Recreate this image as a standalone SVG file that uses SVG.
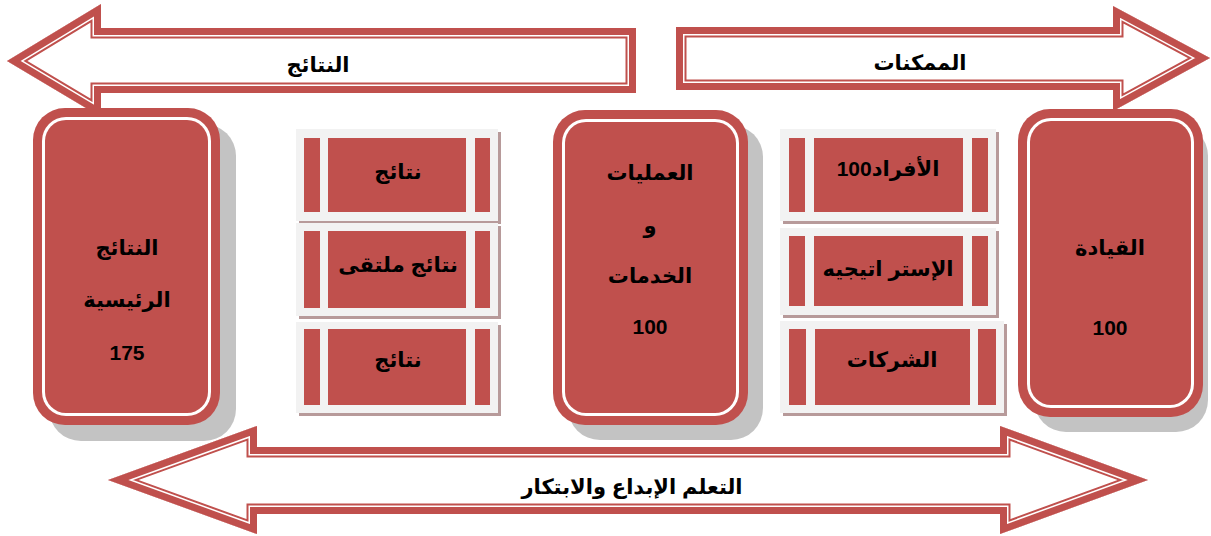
<svg xmlns="http://www.w3.org/2000/svg" xmlns:xlink="http://www.w3.org/1999/xlink" width="1211" height="536" viewBox="0 0 1211 536">
<style>
.bg{fill:#ffffff}
.afill{fill:#ffffff}
.b1{fill:none;stroke:#c0504d;stroke-width:21;stroke-linejoin:miter;stroke-miterlimit:10}
.b2{fill:none;stroke:#ffffff;stroke-width:17;stroke-linejoin:miter;stroke-miterlimit:10}
.b3{fill:none;stroke:#c0504d;stroke-width:14;stroke-linejoin:miter;stroke-miterlimit:10}
.red{fill:#c0504d}
.white{fill:#ffffff}
.shadow{fill:#c3c3c3}
.pale{fill:#f2f2f2}
.pshadow{fill:#b79a9a}
.t{font-family:"Liberation Sans","DejaVu Sans",sans-serif;font-weight:bold;font-size:21px;fill:#000000;text-anchor:middle;direction:rtl}
</style>
<defs>
<path id="pTL" d="M7,61 L101,4 L101,28 L636,28 L636,93 L101,93 L101,117 Z"/>
<path id="pTR" d="M676,27 L1113,27 L1113,6 L1210,58 L1113,111 L1113,90 L676,90 Z"/>
<path id="pB" d="M108,480 L257,426 L257,447 L1000,447 L1000,426 L1148,480 L1000,534 L1000,514 L257,514 L257,534 Z"/>
<clipPath id="cTL"><use xlink:href="#pTL"/></clipPath>
<clipPath id="cTR"><use xlink:href="#pTR"/></clipPath>
<clipPath id="cB"><use xlink:href="#pB"/></clipPath>
</defs>
<rect class="bg" x="0" y="0" width="1211" height="536"/>
<g id="connectors">
<g id="arrow-results">
<use xlink:href="#pTL" class="afill"/>
<use xlink:href="#pTL" class="b1" clip-path="url(#cTL)"/>
<use xlink:href="#pTL" class="b2" clip-path="url(#cTL)"/>
<use xlink:href="#pTL" class="b3" clip-path="url(#cTL)"/>
<text class="t" x="318" y="72">النتائج</text>
</g>
<g id="arrow-enablers">
<use xlink:href="#pTR" class="afill"/>
<use xlink:href="#pTR" class="b1" clip-path="url(#cTR)"/>
<use xlink:href="#pTR" class="b2" clip-path="url(#cTR)"/>
<use xlink:href="#pTR" class="b3" clip-path="url(#cTR)"/>
<text class="t" x="920" y="70">الممكنات</text>
</g>
<g id="arrow-learning">
<use xlink:href="#pB" class="afill"/>
<use xlink:href="#pB" class="b1" clip-path="url(#cB)"/>
<use xlink:href="#pB" class="b2" clip-path="url(#cB)"/>
<use xlink:href="#pB" class="b3" clip-path="url(#cB)"/>
<text class="t" x="632" y="494">التعلم الإبداع والابتكار</text>
</g>
</g>
<g id="node-main-results">
<rect class="shadow" x="49" y="124" width="187" height="317" rx="32"/>
<rect class="red" x="33" y="108" width="187" height="317" rx="32"/>
<rect class="white" x="42" y="117" width="169" height="299" rx="24"/>
<rect class="red" x="45" y="120" width="163" height="293" rx="21"/>
<text class="t" x="127" y="255">النتائج</text>
<text class="t" x="127" y="307">الرئيسية</text>
<text class="t" x="127" y="360">175</text>
</g>
<g id="node-processes">
<rect class="shadow" x="568" y="125" width="195" height="315" rx="32"/>
<rect class="red" x="553" y="110" width="195" height="315" rx="32"/>
<rect class="white" x="562" y="119" width="177" height="297" rx="24"/>
<rect class="red" x="565" y="122" width="171" height="291" rx="21"/>
<text class="t" x="650" y="180">العمليات</text>
<text class="t" x="650" y="233">و</text>
<text class="t" x="650" y="283">الخدمات</text>
<text class="t" x="650" y="334">100</text>
</g>
<g id="node-leadership">
<rect class="shadow" x="1034" y="124" width="174" height="308" rx="32"/>
<rect class="red" x="1018" y="109" width="185" height="308" rx="32"/>
<rect class="white" x="1027" y="118" width="167" height="290" rx="24"/>
<rect class="red" x="1030" y="121" width="161" height="284" rx="21"/>
<text class="t" x="1110" y="255">القيادة</text>
<text class="t" x="1110" y="335">100</text>
</g>
<g id="node-results-1">
<rect class="pshadow" x="299" y="132" width="202" height="92"/>
<rect class="pale" x="296" y="129" width="202" height="92"/>
<rect class="red" x="304" y="138" width="16" height="74"/>
<rect class="red" x="328" y="138" width="138" height="74"/>
<rect class="red" x="475" y="138" width="15" height="74"/>
<text class="t" x="398" y="179">نتائج</text>
</g>
<g id="node-results-2">
<rect class="pshadow" x="299" y="226" width="202" height="93"/>
<rect class="pale" x="296" y="223" width="202" height="93"/>
<rect class="red" x="304" y="231" width="16" height="77"/>
<rect class="red" x="328" y="231" width="138" height="77"/>
<rect class="red" x="475" y="231" width="15" height="77"/>
<text class="t" x="398" y="272">نتائج ملتقى</text>
</g>
<g id="node-results-3">
<rect class="pshadow" x="299" y="325" width="202" height="91"/>
<rect class="pale" x="296" y="322" width="202" height="91"/>
<rect class="red" x="304" y="329" width="16" height="76"/>
<rect class="red" x="328" y="329" width="138" height="76"/>
<rect class="red" x="475" y="329" width="15" height="76"/>
<text class="t" x="398" y="367">نتائج</text>
</g>
<g id="node-people">
<rect class="pshadow" x="783" y="132" width="216" height="92"/>
<rect class="pale" x="780" y="129" width="216" height="92"/>
<rect class="red" x="789" y="138" width="16" height="74"/>
<rect class="red" x="814" y="138" width="149" height="74"/>
<rect class="red" x="972" y="138" width="16" height="74"/>
<text class="t" x="888" y="176">الأفراد100</text>
</g>
<g id="node-strategy">
<rect class="pshadow" x="783" y="231" width="216" height="87"/>
<rect class="pale" x="780" y="228" width="216" height="87"/>
<rect class="red" x="789" y="236" width="16" height="70"/>
<rect class="red" x="814" y="236" width="149" height="70"/>
<rect class="red" x="972" y="236" width="16" height="70"/>
<text class="t" x="888" y="276">الإستر اتيجيه</text>
</g>
<g id="node-partners">
<rect class="pshadow" x="783" y="324" width="224" height="92"/>
<rect class="pale" x="780" y="321" width="224" height="92"/>
<rect class="red" x="789" y="329" width="17" height="76"/>
<rect class="red" x="815" y="329" width="155" height="76"/>
<rect class="red" x="978" y="329" width="18" height="76"/>
<text class="t" x="892" y="367">الشركات</text>
</g>
</svg>
